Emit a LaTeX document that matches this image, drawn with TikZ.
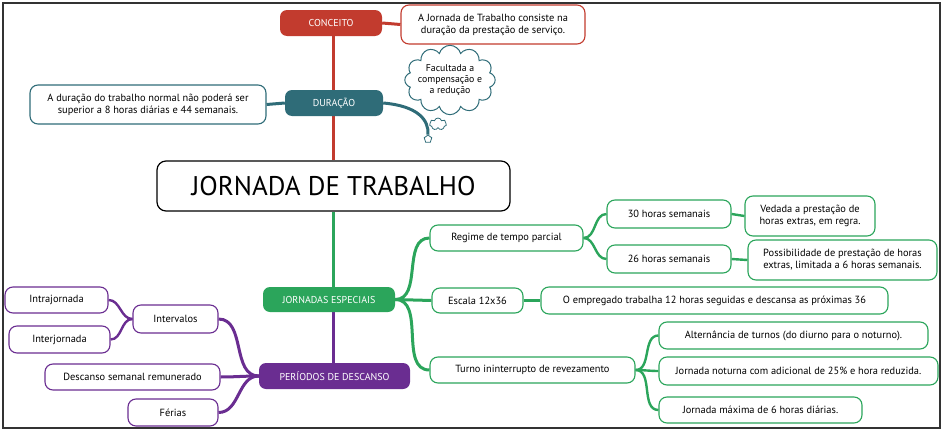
\documentclass[tikz,border=0pt]{standalone}
\usepackage{fontspec}
\setmainfont{PT Sans}
\usetikzlibrary{shapes.symbols,backgrounds}
\definecolor{conred}{HTML}{C23B2E}
\definecolor{durteal}{HTML}{2F6C78}
\definecolor{espgreen}{HTML}{2BA55B}
\definecolor{despurple}{HTML}{6A2D91}
\begin{document}
\begin{tikzpicture}[x=1pt,y=-1pt,
every node/.style={font=\fontsize{10.4}{12}\selectfont},
topic/.style={%
text=white,
rounded corners=7pt,
minimum height=26pt,
font=\fontsize{10}{12}\selectfont
},
leaf/.style={%
draw,
fill=white,
line width=1.1pt,
rounded corners=8pt,
align=center,
inner sep=2pt
},
link/.style={line width=3pt},
twig/.style={line width=2.4pt}
]
\useasboundingbox (0,0) rectangle (943,431);
\draw[line width=1.5pt,black!80] (3,3) rectangle (940,428);
% centro
\node[draw,fill=white,line width=1.2pt,rounded corners=9pt,minimum width=353pt,minimum height=50pt,font=\fontsize{27}{30}\selectfont] (main) at (333.5,186) {JORNADA DE TRABALHO};
% conceito
\node[topic,fill=conred,minimum width=102pt] (conceito) at (331,23) {CONCEITO};
\node[leaf,draw=conred,minimum width=184pt,minimum height=39pt] (conctxt) at (493,24.5) {A Jornada de Trabalho consiste na\\duração da prestação de serviço.};
% duracao
\node[topic,fill=durteal,minimum width=98pt] (duracao) at (334,103) {DURAÇÃO};
\node[leaf,draw=durteal,minimum width=236pt,minimum height=39pt] (durtxt) at (148,104.5) {A duração do trabalho normal não poderá ser\\superior a 8 horas diárias e 44 semanais.};
\node[cloud,draw=durteal,fill=white,line width=1pt,cloud puffs=12,aspect=1.5,align=center,inner sep=-3pt,font=\fontsize{9.8}{11}\selectfont] (nota) at (450,80) {Facultada a\\compensação e\\a redução};
\node[cloud,draw=durteal,fill=white,line width=0.8pt,cloud puffs=7,minimum width=17pt,minimum height=12pt,inner sep=0pt] (puffa) at (438,124) {};
\node[cloud,draw=durteal,fill=white,line width=0.8pt,cloud puffs=5,minimum width=8pt,minimum height=8pt,inner sep=0pt] (puffb) at (428,139) {};
% jornadas especiais
\node[topic,fill=espgreen,minimum width=132pt,minimum height=25pt] (espec) at (329,299.5) {JORNADAS ESPECIAIS};
\node[leaf,draw=espgreen,minimum width=153pt,minimum height=26pt] (regime) at (506.5,238) {Regime de tempo parcial};
\node[leaf,draw=espgreen,minimum width=91pt,minimum height=25pt] (escala) at (477.5,300.5) {Escala 12x36};
\node[leaf,draw=espgreen,minimum width=205pt,minimum height=26pt] (turno) at (532.5,370) {Turno ininterrupto de revezamento};
\node[leaf,draw=espgreen,minimum width=124pt,minimum height=28pt] (h30) at (669,214) {30 horas semanais};
\node[leaf,draw=espgreen,minimum width=124pt,minimum height=28pt] (h26) at (669,259) {26 horas semanais};
\node[leaf,draw=espgreen,minimum width=130pt,minimum height=40pt] (vedada) at (810,216) {Vedada a prestação de\\horas extras, em regra.};
\node[leaf,draw=espgreen,minimum width=189pt,minimum height=40pt] (possib) at (842.5,260) {Possibilidade de prestação de horas\\extras, limitada a 6 horas semanais.};
\node[leaf,draw=espgreen,minimum width=347pt,minimum height=27pt] (empreg) at (714.5,300.5) {O empregado trabalha 12 horas seguidas e descansa as próximas 36};
\node[leaf,draw=espgreen,minimum width=269pt,minimum height=27pt] (altern) at (793.5,335.5) {Alternância de turnos (do diurno para o noturno).};
\node[leaf,draw=espgreen,minimum width=279pt,minimum height=28pt] (noturna) at (798.5,371) {Jornada noturna com adicional de 25\% e hora reduzida.};
\node[leaf,draw=espgreen,minimum width=203pt,minimum height=26pt] (maxima) at (760.5,410) {Jornada máxima de 6 horas diárias.};
% periodos de descanso
\node[topic,fill=despurple,minimum width=151pt] (descanso) at (334.5,376) {PERÍODOS DE DESCANSO};
\node[leaf,draw=despurple,minimum width=85pt,minimum height=28pt] (interv) at (175.5,319) {Intervalos};
\node[leaf,draw=despurple,minimum width=175pt,minimum height=26pt] (dsr) at (132.5,377) {Descanso semanal remunerado};
\node[leaf,draw=despurple,minimum width=90pt,minimum height=27pt] (ferias) at (173,412.5) {Férias};
\node[leaf,draw=despurple,minimum width=103pt,minimum height=26pt] (intra) at (56.5,300) {Intrajornada};
\node[leaf,draw=despurple,minimum width=101pt,minimum height=27pt] (inter) at (59.5,339.5) {Interjornada};
% ligacoes
\begin{scope}[on background layer]
\draw[link,conred] (main.north) -- (main.north |- conceito.south);
\draw[link,conred] (conceito.east) -- (conctxt.west);
\draw[link,durteal] (duracao.west) -- (durtxt.east);
\draw[link,durteal] (duracao.east) .. controls (418,106) and (429,120) .. (puffb.north);
\draw[link,despurple] (main.south) -- (main.south |- descanso.north);
\draw[link,espgreen] (main.south) -- (main.south |- espec.north);
\draw[link,espgreen] (espec.east) to[out=0,in=180] (regime.west);
\draw[link,espgreen] (espec.east) -- (escala.west);
\draw[link,espgreen] (espec.east) to[out=0,in=180] (turno.west);
\draw[twig,espgreen] (regime.east) to[out=0,in=180] (h30.west);
\draw[twig,espgreen] (regime.east) to[out=0,in=180] (h26.west);
\draw[twig,espgreen] (h30.east) -- (vedada.west);
\draw[twig,espgreen] (h26.east) -- (possib.west);
\draw[twig,espgreen] (escala.east) -- (empreg.west);
\draw[twig,espgreen] (turno.east) to[out=0,in=180] (altern.west);
\draw[twig,espgreen] (turno.east) to[out=0,in=180] (noturna.west);
\draw[twig,espgreen] (turno.east) to[out=0,in=180] (maxima.west);
\draw[link,despurple] (descanso.west) to[out=180,in=0] (interv.east);
\draw[link,despurple] (descanso.west) to[out=180,in=0] (dsr.east);
\draw[link,despurple] (descanso.west) to[out=180,in=0] (ferias.east);
\draw[twig,despurple] (interv.west) to[out=180,in=0] (intra.east);
\draw[twig,despurple] (interv.west) to[out=180,in=0] (inter.east);
\end{scope}
\end{tikzpicture}
\end{document}
